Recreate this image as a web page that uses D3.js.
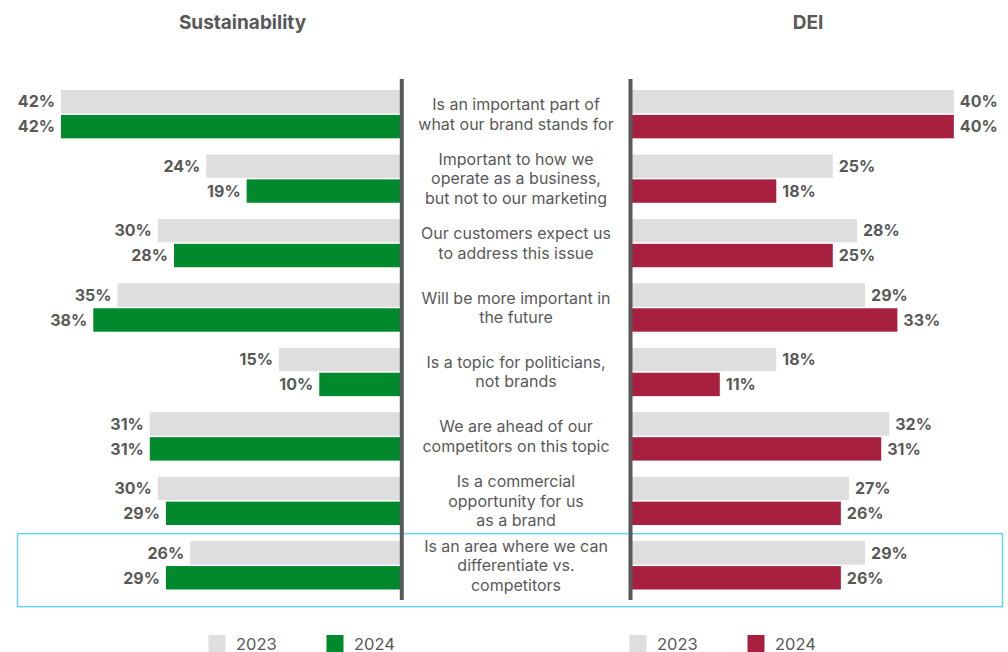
<!DOCTYPE html>
<html>
<head>
<meta charset="utf-8">
<script src="https://cdn.jsdelivr.net/npm/d3@7"></script>
<style>
  html, body { margin: 0; padding: 0; background: #ffffff; }
  svg { display: block; font-family: Inter, "Noto Sans", sans-serif; }
</style>
</head>
<body>
<svg id="chart" width="1008" height="652"></svg>
<script>
// Survey statements, shared by both panels
const categories = [
  ["Is an important part of", "what our brand stands for"],
  ["Important to how we", "operate as a business,", "but not to our marketing"],
  ["Our customers expect us", "to address this issue"],
  ["Will be more important in", "the future"],
  ["Is a topic for politicians,", "not brands"],
  ["We are ahead of our", "competitors on this topic"],
  ["Is a commercial", "opportunity for us", "as a brand"],
  ["Is an area where we can", "differentiate vs.", "competitors"]
];
const years = ["2023", "2024"];

// Share of respondents (%)
const sustainability2023 = [42, 24, 30, 35, 15, 31, 30, 26];
const sustainability2024 = [42, 19, 28, 38, 10, 31, 29, 29];
const dei2023 = [40, 25, 28, 29, 18, 32, 27, 29];
const dei2024 = [40, 18, 25, 33, 11, 31, 26, 26];

const panelTitles = ["Sustainability", "DEI"];
const highlightIndex = 7;

const GREY = "#dedede";
const GREEN = "#008a2d";
const RED = "#a8203f";
const TEXT = "#595959";

const svg = d3.select("#chart");

const keys = d3.range(categories.length);
const y = d3.scaleBand().domain(keys).range([90, 589.5]).paddingInner(0.25).paddingOuter(0);
const ySub = d3.scaleBand().domain(years).range([0, y.bandwidth()]).paddingInner(0.06);

// Bar length scale, shared so both panels are comparable
const len = d3.scaleLinear().domain([0, 42]).range([0, 339]);

const leftEdge = 400;   // left panel bars grow leftwards from here
const rightEdge = 631;  // right panel bars grow rightwards from here

function drawPanel(g, v2023, v2024, colour, dir, origin) {
  const series = [{ year: "2023", values: v2023, fill: GREY },
                  { year: "2024", values: v2024, fill: colour }];
  series.forEach(s => {
    const rows = s.values.map((v, i) => ({ i, v }));
    g.selectAll(null).data(rows).enter().append("rect")
      .attr("x", d => dir < 0 ? origin - len(d.v) : origin)
      .attr("y", d => y(d.i) + ySub(s.year))
      .attr("width", d => len(d.v))
      .attr("height", ySub.bandwidth())
      .attr("fill", s.fill);
    g.selectAll(null).data(rows).enter().append("text")
      .attr("x", d => dir < 0 ? origin - len(d.v) - 6 : origin + len(d.v) + 6)
      .attr("y", d => y(d.i) + ySub(s.year) + ySub.bandwidth() / 2)
      .attr("dy", "0.36em")
      .attr("text-anchor", dir < 0 ? "end" : "start")
      .attr("font-size", 16)
      .attr("font-weight", 700)
      .attr("fill", TEXT)
      .text(d => d.v + "%");
  });
}

// Highlight frame around the last statement
svg.append("rect")
  .attr("x", 17.5).attr("y", y(highlightIndex) - 7.5)
  .attr("width", 985).attr("height", 73)
  .attr("fill", "none")
  .attr("stroke", "#62d6f3")
  .attr("stroke-width", 1.5);

drawPanel(svg.append("g"), sustainability2023, sustainability2024, GREEN, -1, leftEdge);
drawPanel(svg.append("g"), dei2023, dei2024, RED, 1, rightEdge);

// Vertical dividers framing the statement column
[401.8, 630.5].forEach(x => {
  svg.append("line")
    .attr("x1", x).attr("x2", x)
    .attr("y1", 79).attr("y2", 600)
    .attr("stroke", "#595959")
    .attr("stroke-width", 4);
});

// Statement labels
const lineH = 19.5;
const labels = svg.append("g").attr("text-anchor", "middle")
  .attr("font-size", 16).attr("fill", TEXT);
categories.forEach((lines, i) => {
  const cy = y(i) + y.bandwidth() / 2;
  const t = labels.append("text").attr("x", 516);
  lines.forEach((ln, k) => {
    t.append("tspan")
      .attr("x", 516)
      .attr("y", cy + (k - (lines.length - 1) / 2) * lineH)
      .attr("dy", "0.36em")
      .text(ln);
  });
});

// Panel titles
[[panelTitles[0], 242.5], [panelTitles[1], 808]].forEach(([t, x]) => {
  svg.append("text")
    .attr("x", x).attr("y", 29)
    .attr("text-anchor", "middle")
    .attr("font-size", 19)
    .attr("font-weight", 700)
    .attr("fill", TEXT)
    .text(t);
});

// Legends
function legend(x0, colour) {
  const items = [{ label: years[0], fill: GREY, x: x0 },
                 { label: years[1], fill: colour, x: x0 + 118 }];
  items.forEach(it => {
    svg.append("rect")
      .attr("x", it.x).attr("y", 635)
      .attr("width", 17).attr("height", 17)
      .attr("fill", it.fill);
    svg.append("text")
      .attr("x", it.x + 27.5).attr("y", 650)
      .attr("font-size", 16.5)
      .attr("fill", TEXT)
      .text(it.label);
  });
}
legend(208.5, GREEN);
legend(629.5, RED);
</script>
</body>
</html>
